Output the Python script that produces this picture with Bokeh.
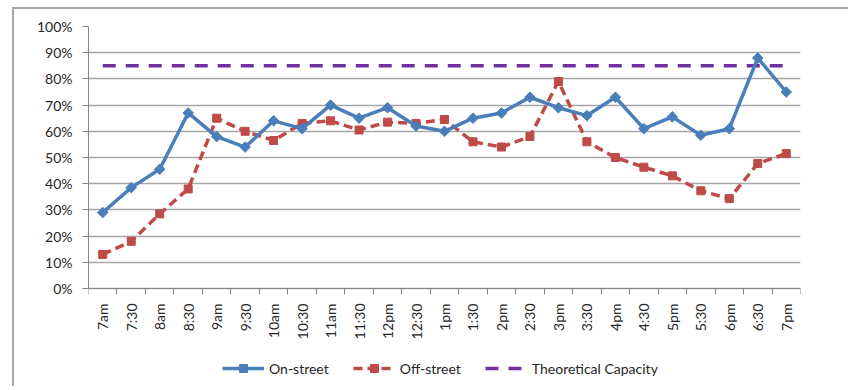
from math import pi

from bokeh.embed import file_html
from bokeh.models import (FixedTicker, Legend, LegendItem, NumeralTickFormatter,
                          Range1d)
from bokeh.plotting import figure
from bokeh.resources import INLINE

# Half-hourly occupancy, 7am to 7pm
times = ["7am", "7:30", "8am", "8:30", "9am", "9:30", "10am", "10:30", "11am",
         "11:30", "12pm", "12:30", "1pm", "1:30", "2pm", "2:30", "3pm", "3:30",
         "4pm", "4:30", "5pm", "5:30", "6pm", "6:30", "7pm"]
on_street = [0.29, 0.385, 0.455, 0.67, 0.58, 0.54, 0.64, 0.61, 0.70, 0.65,
             0.69, 0.62, 0.60, 0.65, 0.67, 0.73, 0.69, 0.66, 0.73, 0.61,
             0.655, 0.585, 0.61, 0.88, 0.75]
off_street = [0.13, 0.18, 0.285, 0.38, 0.65, 0.60, 0.565, 0.63, 0.64, 0.605,
              0.635, 0.63, 0.645, 0.56, 0.54, 0.58, 0.79, 0.56, 0.50, 0.463,
              0.43, 0.373, 0.343, 0.477, 0.515]
capacity = [0.85] * len(times)
y_ticks = [0.0, 0.1, 0.2, 0.3, 0.4, 0.5, 0.6, 0.7, 0.8, 0.9, 1.0]

x = list(range(len(times)))

FONT = "Lato"
FONT_SIZE = "14px"
TEXT = "#262626"
BLUE = "#4a7ebb"
RED = "#be4b48"
PURPLE = "#7030a0"

# The 0-100% band is 262 px tall; the frame continues below it so the
# category labels and the legend sit inside the frame.
BAND_PX = 262
EXTRA_PX = 98

p = figure(
    frame_width=712, frame_height=BAND_PX + EXTRA_PX,
    min_border_left=74, min_border_right=48,
    min_border_top=17, min_border_bottom=0,
    x_range=Range1d(-0.5, len(times) - 0.5),
    y_range=Range1d(-EXTRA_PX / BAND_PX, 1),
    output_backend="svg", toolbar_location=None,
    margin=(7, 0, 0, 12),
)
p.styles = {"border-left": "2px solid #a6a6a6", "border-top": "2px solid #a6a6a6"}
p.outline_line_color = None
p.background_fill_color = "white"
p.border_fill_color = "white"

# y axis: percentages with horizontal gridlines
p.yaxis.ticker = FixedTicker(ticks=y_ticks)
p.yaxis.bounds = (0, 1)
p.yaxis.formatter = NumeralTickFormatter(format="0%")
p.yaxis.major_tick_in = 0
p.yaxis.major_tick_out = 6
p.yaxis.minor_tick_line_color = None
p.yaxis.axis_line_color = "#868686"
p.yaxis.major_tick_line_color = "#868686"
p.yaxis.major_label_text_font = FONT
p.yaxis.major_label_text_font_size = FONT_SIZE
p.yaxis.major_label_text_color = TEXT
p.yaxis.major_label_standoff = 10

p.ygrid.ticker = FixedTicker(ticks=y_ticks)
p.ygrid.grid_line_color = "#a6a6a6"
p.ygrid.grid_line_width = 1.5
p.xgrid.grid_line_color = None

# x axis at 0%: labels at category centres, tick marks between categories
p.xaxis.fixed_location = 0
p.xaxis.ticker = FixedTicker(ticks=x, minor_ticks=[i - 0.5 for i in range(len(times) + 1)])
p.xaxis.major_label_overrides = {i: t for i, t in enumerate(times)}
p.xaxis.major_label_orientation = pi / 2
p.xaxis.major_tick_line_color = None
p.xaxis.minor_tick_in = 0
p.xaxis.minor_tick_out = 6
p.xaxis.minor_tick_line_color = "#868686"
p.xaxis.axis_line_color = "#868686"
p.xaxis.major_label_text_font = FONT
p.xaxis.major_label_text_font_size = FONT_SIZE
p.xaxis.major_label_text_color = TEXT
p.xaxis.major_label_standoff = 9

cap = p.line(x, capacity, line_color=PURPLE, line_width=3.5, line_dash="13 10")

off_line = p.line(x, off_street, line_color=RED, line_width=3.5, line_dash="9 5")
off_pts = p.scatter(x, off_street, marker="square", size=8, fill_color=RED,
                    line_color=RED)

on_line = p.line(x, on_street, line_color=BLUE, line_width=3.5)
on_pts = p.scatter(x, on_street, marker="square", angle=pi / 4, size=7.5,
                   fill_color=BLUE, line_color=BLUE)

legend = Legend(
    items=[
        LegendItem(label="On-street", renderers=[on_line, on_pts]),
        LegendItem(label="Off-street", renderers=[off_line, off_pts]),
        LegendItem(label="Theoretical Capacity", renderers=[cap]),
    ],
    orientation="horizontal",
    location=(134, 8),
    glyph_width=42, glyph_height=20,
    label_standoff=5, spacing=24,
    padding=0, margin=0,
    border_line_color=None, background_fill_alpha=0,
    label_text_font=FONT, label_text_font_size=FONT_SIZE,
    label_text_color=TEXT,
)
p.add_layout(legend, "center")

open("out.html", "w").write(file_html(p, INLINE))
